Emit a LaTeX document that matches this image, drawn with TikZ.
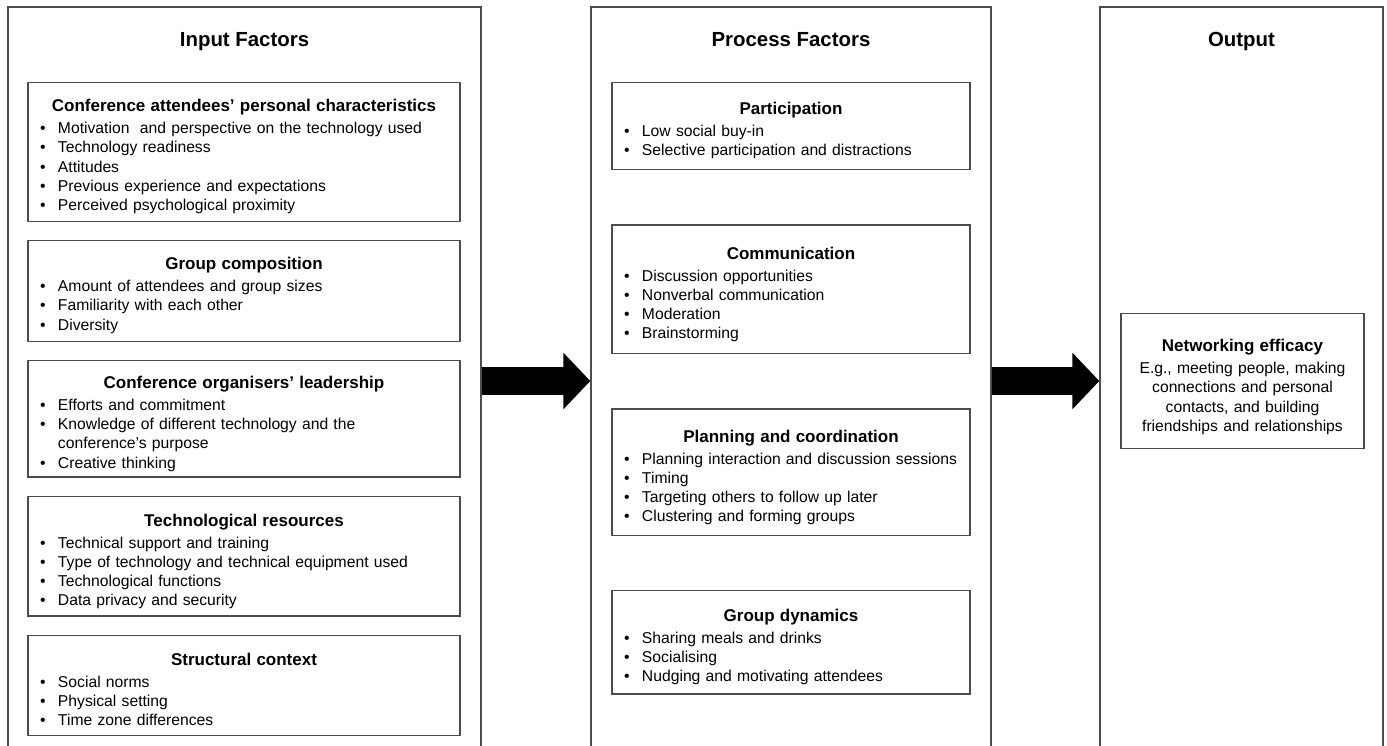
\documentclass[tikz,border=0pt]{standalone}
\usepackage{fontspec}
\setmainfont{Liberation Sans}
\usetikzlibrary{positioning, arrows.meta}

% box heading, bullet line and bottom strut
\newcommand{\btitle}[2][29pt]{{\centering\fontsize{17}{22}\selectfont\bfseries\rule{0pt}{#1}#2\par}\vspace{2.8pt}}
\newcommand{\bitem}[1]{\par\hangindent=24pt\hangafter=1\noindent\hbox to 24pt{\hskip6pt\textbullet\hfil}#1}
\newcommand{\bend}[1][11pt]{\rule[-#1]{0pt}{#1}}

\begin{document}
\begin{tikzpicture}[x=1pt, y=-1pt,
  col/.style = {draw=black!70, line width=1.3pt, minimum height=748pt},
  hdr/.style = {anchor=base, font=\fontsize{20.4}{24}\selectfont\bfseries},
  factor/.style = {draw=black!70, line width=1.3pt, anchor=north, inner xsep=6pt, inner ysep=0pt, font=\fontsize{15.7}{19.2}\selectfont},
  bigarrow/.style = {line width=28pt, -{Triangle[length=27pt, width=55pt]}}]
\useasboundingbox (0,0) rectangle (1387,746);
\clip (0,0) rectangle (1387,746);

% the three columns
\node[col, minimum width=473pt] (in) at (244.5,381) {};
\node[col, minimum width=400pt] (pr) at (791,381) {};
\node[col, minimum width=283pt] (out) at (1241.5,381) {};
\node[hdr] (h1) at (244.5,46.7) {Input Factors};
\node[hdr] (h2) at (791,46.7) {Process Factors};
\node[hdr] (h3) at (1241.5,46.7) {Output};

% input factors
\node[factor, text width=420pt] (c1) at (244,82) {\btitle{Conference attendees' personal characteristics}
  \bitem{Motivation\ \ and perspective on the technology used}
  \bitem{Technology readiness}
  \bitem{Attitudes}
  \bitem{Previous experience and expectations}
  \bitem{Perceived psychological proximity}\bend};
\node[factor, text width=420pt] (c2) [below=18pt of c1] {\btitle{Group composition}
  \bitem{Amount of attendees and group sizes}
  \bitem{Familiarity with each other}
  \bitem{Diversity}\bend};
\node[factor, text width=420pt] (c3) [below=18pt of c2] {\btitle[28pt]{Conference organisers' leadership}
  \bitem{Efforts and commitment}
  \bitem{Knowledge of different technology and the\newline conference's purpose}
  \bitem{Creative thinking}\bend[9pt]};
\node[factor, text width=420pt] (c4) [below=18pt of c3] {\btitle[30pt]{Technological resources}
  \bitem{Technical support and training}
  \bitem{Type of technology and technical equipment used}
  \bitem{Technological functions}
  \bitem{Data privacy and security}\bend[10pt]};
\node[factor, text width=420pt] (c5) [below=18pt of c4] {\btitle[30pt]{Structural context}
  \bitem{Social norms}
  \bitem{Physical setting}
  \bitem{Time zone differences}\bend[10pt]};

% process factors
\node[factor, text width=346pt] (p1) at (791,82) {\btitle[32pt]{Participation}
  \bitem{Low social buy-in}
  \bitem{Selective participation and distractions}\bend[14pt]};
\node[factor, text width=346pt] (p2) [below=54pt of p1] {\btitle[34pt]{Communication}
  \bitem{Discussion opportunities}
  \bitem{Nonverbal communication}
  \bitem{Moderation}
  \bitem{Brainstorming}\bend[15pt]};
\node[factor, text width=346pt] (p3) [below=54pt of p2] {\btitle[33pt]{Planning and coordination}
  \bitem{Planning interaction and discussion sessions}
  \bitem{Timing}
  \bitem{Targeting others to follow up later}
  \bitem{Clustering and forming groups}\bend[13.5pt]};
\node[factor, text width=346pt] (p4) [below=54pt of p3] {\btitle[31pt]{Group dynamics}
  \bitem{Sharing meals and drinks}
  \bitem{Socialising}
  \bitem{Nudging and motivating attendees}\bend[12pt]};

% output
\node[factor, text width=231pt] (o1) at (1242.5,313) {\btitle[38pt]{Networking efficacy}
  {\centering E.g., meeting people, making\\ connections and personal\\ contacts, and building\\ friendships and relationships\bend[17.4pt]\par}};

\draw[bigarrow] (in.east) -- (pr.west);
\draw[bigarrow] (pr.east) -- (out.west);
\end{tikzpicture}
\end{document}
